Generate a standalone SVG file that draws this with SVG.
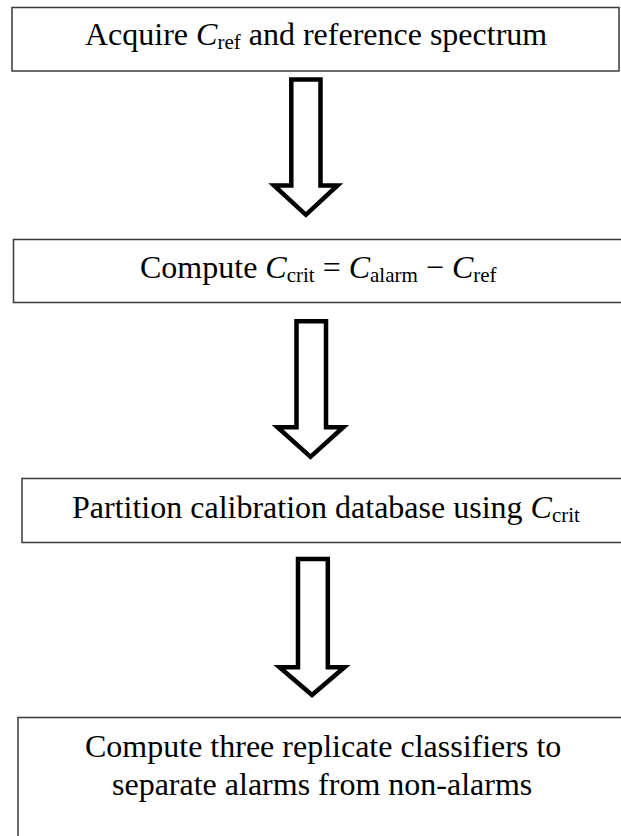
<svg xmlns="http://www.w3.org/2000/svg" width="621" height="836" viewBox="0 0 621 836">
  <style>
    .box { fill: #ffffff; stroke: #3a3a3a; stroke-width: 1.5; }
    .label { font-family: "Liberation Serif", "Times New Roman", serif; font-size: 32px; fill: #000000; }
    .var { font-style: italic; }
    .sub { font-size: 21px; }
    .arrow { fill: #ffffff; stroke: #000000; stroke-width: 4.5; stroke-linejoin: miter; stroke-miterlimit: 10; }
  </style>
  <rect width="621" height="836" fill="#ffffff"/>

  <!-- step boxes -->
  <g id="step-acquire">
    <rect class="box" x="12" y="7.5" width="607" height="63.5"/>
    <text class="label" x="85" y="45">Acquire <tspan class="var">C</tspan><tspan class="sub" dy="4">ref</tspan><tspan dy="-4"> and reference spectrum</tspan></text>
  </g>

  <g id="step-critical">
    <rect class="box" x="13.5" y="239.5" width="620" height="63"/>
    <text class="label" x="140" y="277.5">Compute <tspan class="var">C</tspan><tspan class="sub" dy="4">crit</tspan><tspan dy="-4"> = </tspan><tspan class="var">C</tspan><tspan class="sub" dy="4">alarm</tspan><tspan dy="-4"> − </tspan><tspan class="var">C</tspan><tspan class="sub" dy="4">ref</tspan></text>
  </g>

  <g id="step-partition">
    <rect class="box" x="22" y="478.5" width="620" height="64"/>
    <text class="label" x="72" y="518">Partition calibration database using <tspan class="var">C</tspan><tspan class="sub" dy="4">crit</tspan></text>
  </g>

  <g id="step-classify">
    <rect class="box" x="18" y="717.5" width="620" height="140"/>
    <text class="label" x="85" y="757">Compute three replicate classifiers to</text>
    <text class="label" x="112" y="795">separate alarms from non-alarms</text>
  </g>

  <!-- block arrows between steps -->
  <g id="connectors">
    <path class="arrow" d="M291.3,79.5 H320.5 V185.5 H337.5 L305.9,214.8 L274,185.5 H291.3 Z"/>
    <path class="arrow" d="M296.5,321.2 H326 V427.2 H343.3 L310.5,456.8 L277.5,427.2 H296.5 Z"/>
    <path class="arrow" d="M298,559 H327.8 V667.2 H344.5 L312,695 L279.5,667.2 H298 Z"/>
  </g>
</svg>
